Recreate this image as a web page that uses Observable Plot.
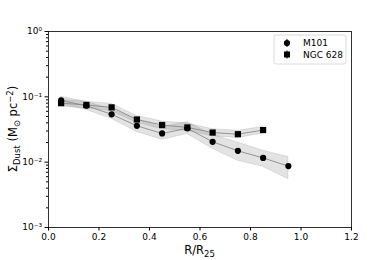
<!DOCTYPE html>
<html><head><meta charset="utf-8">
<script src="https://cdn.jsdelivr.net/npm/d3@7"></script>
<script src="https://cdn.jsdelivr.net/npm/@observablehq/plot@0.6"></script>
<style>
body{margin:0;background:#fff}
svg{font-family:"DejaVu Sans",sans-serif}
</style>
</head><body><div id="chart"></div>
<script>
// Data
const m101Radius = [0.05, 0.15, 0.25, 0.35, 0.45, 0.55, 0.65, 0.75, 0.85, 0.95];
const m101Value  = [0.088, 0.073, 0.054, 0.036, 0.0275, 0.033, 0.0205, 0.0149, 0.0116, 0.0087];
const m101Low    = [0.076, 0.063, 0.046, 0.029, 0.022, 0.027, 0.016, 0.0105, 0.0085, 0.0055];
const m101High   = [0.100, 0.084, 0.064, 0.045, 0.034, 0.041, 0.026, 0.020, 0.0150, 0.0120];

const ngcRadius = [0.05, 0.15, 0.25, 0.35, 0.45, 0.55, 0.65, 0.75, 0.85];
const ngcValue  = [0.080, 0.075, 0.069, 0.045, 0.037, 0.034, 0.0284, 0.0268, 0.031];
const ngcLow    = [0.071, 0.067, 0.060, 0.040, 0.032, 0.030, 0.0250, 0.0235, 0.0275];
const ngcHigh   = [0.090, 0.084, 0.078, 0.051, 0.042, 0.039, 0.0320, 0.0302, 0.0345];

const xTicks = [0.0, 0.2, 0.4, 0.6, 0.8, 1.0, 1.2];
const yMajorTicks = [1e-3, 1e-2, 1e-1, 1];
const yTickLabels = ["10\u207B\u00B3", "10\u207B\u00B2", "10\u207B\u00B9", "10\u2070"];
const legendNames = ["M101", "NGC 628"];

const yMinorTicks = [];
for (const d of [1e-3, 1e-2, 1e-1]) for (let k = 2; k <= 9; k++) yMinorTicks.push(d * k);

const m101 = m101Radius.map((r, i) => ({galaxy: "M101", r, v: m101Value[i], lo: m101Low[i], hi: m101High[i]}));
const ngc = ngcRadius.map((r, i) => ({galaxy: "NGC 628", r, v: ngcValue[i], lo: ngcLow[i], hi: ngcHigh[i]}));

const plot = Plot.plot({
  width: 390, height: 260,
  marginLeft: 48, marginRight: 39, marginTop: 31, marginBottom: 33,
  style: {fontFamily: "DejaVu Sans, sans-serif", fontSize: "9px", color: "black", background: "white"},
  x: {domain: [0, 1.2]},
  y: {type: "log", domain: [1e-3, 1]},
  marks: [
    Plot.areaY(m101, {x: "r", y1: "lo", y2: "hi", fill: "#808080", fillOpacity: 0.22, stroke: "#808080", strokeOpacity: 0.35, strokeWidth: 0.6}),
    Plot.areaY(ngc, {x: "r", y1: "lo", y2: "hi", fill: "#808080", fillOpacity: 0.22, stroke: "#808080", strokeOpacity: 0.35, strokeWidth: 0.6}),
    Plot.line(m101, {x: "r", y: "v", stroke: "#8a8a8a", strokeWidth: 0.9}),
    Plot.line(ngc, {x: "r", y: "v", stroke: "#8a8a8a", strokeWidth: 0.9}),
    Plot.dot(m101, {x: "r", y: "v", r: 3.1, fill: "black", symbol: "circle"}),
    Plot.dot(ngc, {x: "r", y: "v", r: 3.5, fill: "black", symbol: "square"}),
    Plot.axisX({ticks: xTicks, tickFormat: d => d.toFixed(1), tickSize: 3.5, tickPadding: 3, label: null, fontSize: 9}),
    Plot.axisY({ticks: yMinorTicks, tickSize: 2, tickFormat: () => "", label: null}),
    Plot.axisY({ticks: yMajorTicks, tickSize: 3.5, tickPadding: 3, tickFormat: d => yTickLabels[yMajorTicks.indexOf(d)], label: null, fontSize: 9}),
    Plot.frame({stroke: "black", strokeWidth: 0.8})
  ]
});

const svg = d3.select(plot);
const xs = plot.scale("x"), ys = plot.scale("y");
const [x0, x1] = xs.range, [y0, y1] = ys.range; // y0 bottom, y1 top
const cx = (x0 + x1) / 2, cy = (y0 + y1) / 2;

// x label R/R25
const xl = svg.append("text").attr("x", cx).attr("y", y0 + 27).attr("text-anchor", "middle")
  .attr("font-size", 11.5).attr("fill", "black");
xl.append("tspan").text("R/R");
xl.append("tspan").attr("font-size", 8.5).attr("dy", 2.5).text("25");

// y label
const yl = svg.append("text").attr("transform", `translate(${x0 - 31},${cy}) rotate(-90)`)
  .attr("text-anchor", "middle").attr("font-size", 11.5).attr("fill", "black");
yl.append("tspan").text("\u03A3");
yl.append("tspan").attr("font-size", 8.5).attr("dy", 2.5).text("Dust");
yl.append("tspan").attr("dy", -2.5).text(" (M");
yl.append("tspan").attr("font-size", 8.5).attr("dy", 2.5).text("\u2299");
yl.append("tspan").attr("dy", -2.5).text(" pc");
yl.append("tspan").attr("font-size", 8.5).attr("dy", -4.5).text("\u22122");
yl.append("tspan").attr("dy", 4.5).text(")");

// legend
const lg = svg.append("g").attr("text-anchor", "start");
const bx = x1 - 77, by = y1 + 4;
lg.append("rect").attr("x", bx).attr("y", by).attr("width", 72).attr("height", 29)
  .attr("rx", 2).attr("fill", "white").attr("fill-opacity", 0.8).attr("stroke", "#d0d0d0").attr("stroke-width", 0.8);
legendNames.forEach((name, i) => {
  const my = by + 8 + i * 11.5, mx = bx + 13;
  lg.append("line").attr("x1", mx).attr("x2", mx).attr("y1", my - 4).attr("y2", my + 4).attr("stroke", "black").attr("stroke-width", 1);
  if (i === 0) lg.append("circle").attr("cx", mx).attr("cy", my).attr("r", 3.1).attr("fill", "black");
  else lg.append("rect").attr("x", mx - 3).attr("y", my - 3).attr("width", 6).attr("height", 6).attr("fill", "black");
  lg.append("text").attr("x", bx + 29).attr("y", my).attr("dy", "0.35em").attr("text-anchor", "start")
    .attr("font-size", 9).attr("fill", "black").text(name);
});

document.getElementById("chart").append(plot);
</script>
</body></html>
